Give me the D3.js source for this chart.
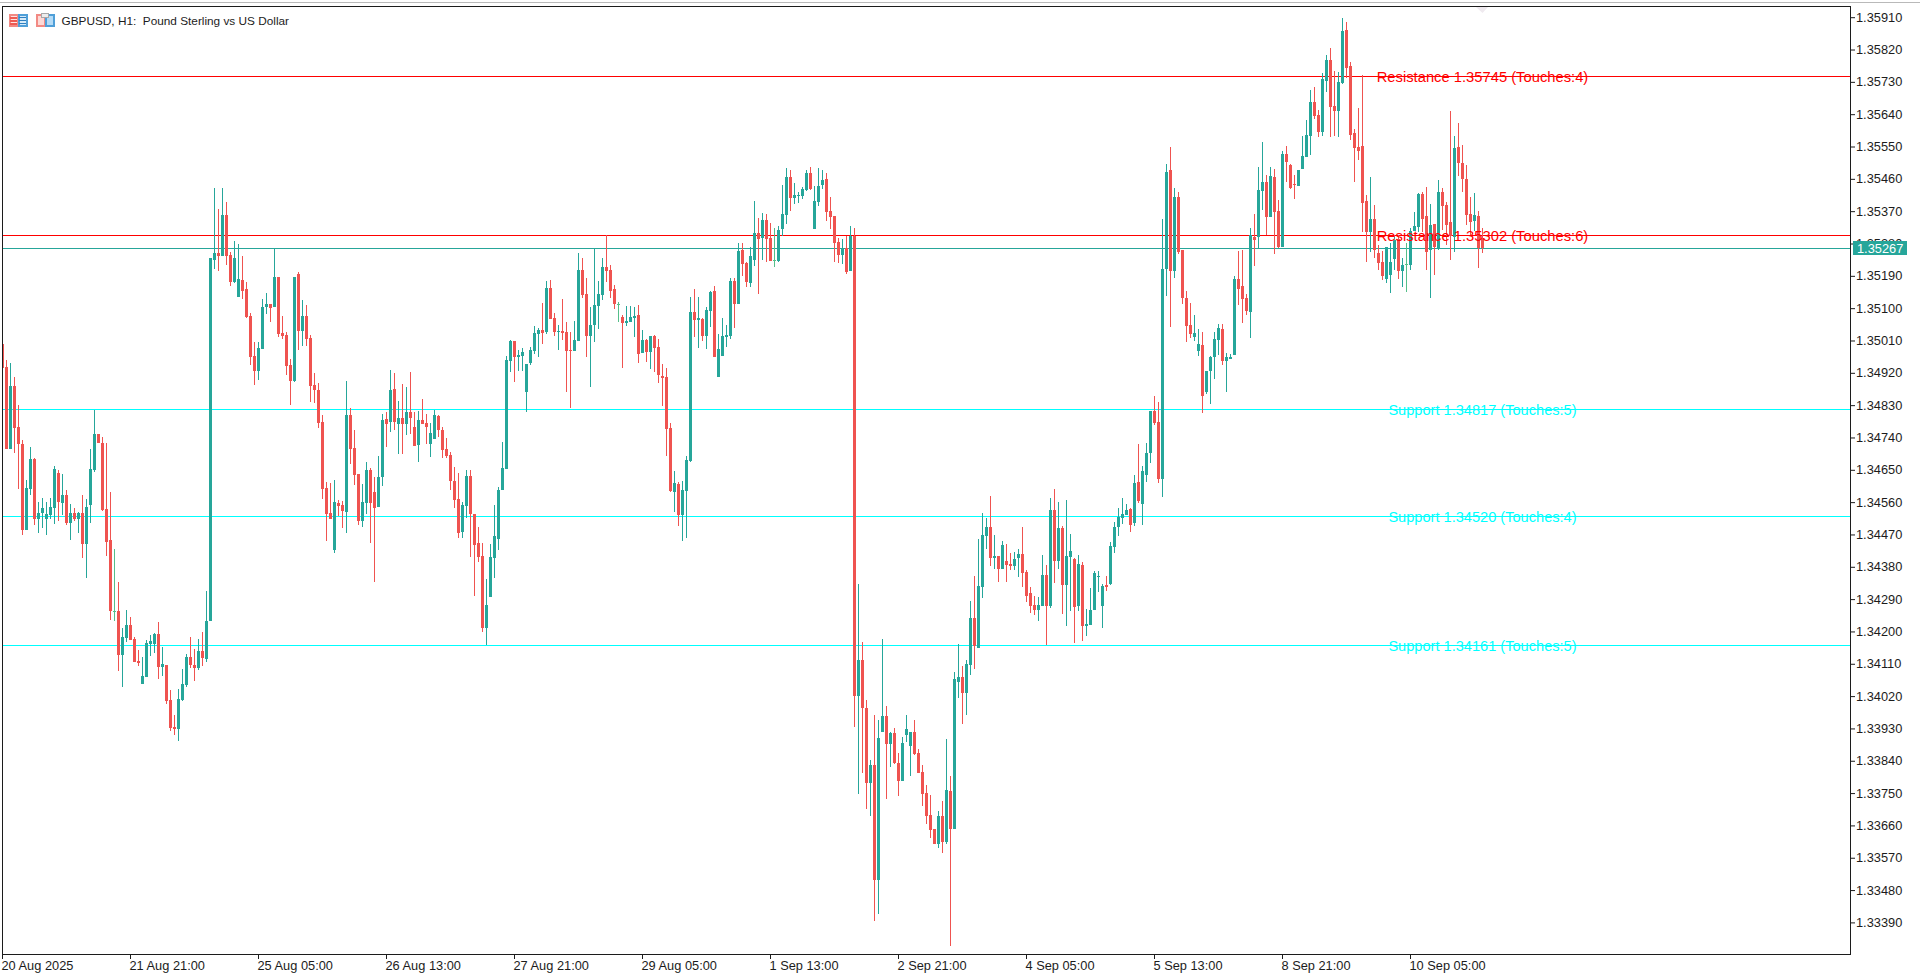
<!DOCTYPE html>
<html><head><meta charset="utf-8">
<title>GBPUSD, H1</title>
<script src="https://cdn.jsdelivr.net/npm/d3@7"></script>
<style>
html,body{margin:0;padding:0;background:#fff;overflow:hidden}
svg{display:block}
text{font-family:"Liberation Sans",Arial,sans-serif;fill:#1c1c1c}
</style></head><body>
<div id="chart"></div>
<script>
// Hourly quotes, in chart points above 1.30000
const opens=[
4998,4934,4706,4881,4767,4719,4478,4593,4678,4509,
4527,4511,4521,4541,4639,4555,4577,4500,4527,4511,
4527,4441,4548,4647,4747,4723,4538,4451,4253,4253,
4131,4177,4214,4174,4114,4050,4069,4161,4160,4189,
4098,4102,4005,3929,3925,4005,4046,4126,4102,4094,
4142,4118,4226,5233,5252,5245,5358,5247,5172,5130,
5177,5152,5077,4965,4923,4984,5102,5110,5102,5185,
5029,5024,4940,4895,5194,5035,5077,5015,4884,4870,
4781,4597,4527,4423,4555,4550,4530,4801,4708,4635,
4505,4555,4646,4586,4543,4626,4788,4781,4873,4776,
4791,4776,4809,4767,4716,4786,4778,4718,4734,4797,
4759,4705,4689,4615,4566,4475,4546,4631,4524,4444,
4407,4206,4293,4400,4454,4591,4650,4951,5007,4962,
4965,4864,4945,4979,5026,5037,5032,5155,5071,5032,
5035,5032,4982,4979,5007,5205,5138,5021,5051,5104,
5135,5213,5205,5152,5110,5074,5057,5060,5071,5079,
4973,5010,4976,5021,4990,4909,4906,4764,4585,4608,
4521,4588,4672,5088,5065,5068,5021,5091,5146,4906,
4965,5018,5021,5174,5110,5261,5224,5169,5233,5308,
5294,5344,5294,5233,5230,5319,5358,5465,5406,5411,
5411,5428,5476,5319,5395,5442,5459,5370,5356,5283,
5247,5266,5202,5300,4016,4116,3982,3773,3823,3502,
3915,3960,3882,3913,3829,3779,3907,3876,3916,3857,
3804,3745,3684,3645,3603,3681,3609,3751,3645,4055,
4069,4024,4102,4234,4150,4320,4462,4488,4401,4407,
4370,4393,4384,4379,4401,4412,4362,4303,4270,4256,
4267,4354,4267,4535,4393,4485,4326,4404,4398,4267,
4382,4211,4214,4256,4350,4267,4326,4329,4432,4488,
4513,4521,4538,4499,4613,4552,4633,4694,4811,4781,
4622,5208,5484,5202,5409,5261,5127,5051,5018,4979,
4996,4864,4923,4962,5010,5040,4951,4956,4968,5180,
5160,5127,5088,5297,5297,5425,5451,5353,5465,5370,
5269,5529,5498,5445,5439,5487,5520,5579,5674,5638,
5590,5732,5791,5663,5649,5727,5875,5774,5587,5548,
5551,5398,5311,5347,5252,5227,5180,5191,5236,5291,
5202,5222,5219,5314,5325,5417,5356,5261,5333,5264,
5423,5386,5339,5297,5548,5504,5459,5361,5342,5356,5294];
const highs=[
4998,4954,4945,4906,4828,4730,4619,4712,4681,4558,
4568,4558,4569,4658,4646,4636,4592,4551,4540,4530,
4576,4566,4705,4815,4747,4740,4722,4584,4427,4335,
4205,4256,4236,4182,4143,4125,4172,4187,4192,4223,
4152,4103,4033,3963,4036,4091,4133,4182,4146,4175,
4195,4309,5238,5434,5375,5434,5395,5256,5285,5277,
5244,5171,5084,5004,5004,5124,5140,5110,5266,5185,
5077,5032,4957,5185,5199,5121,5107,5024,4918,4890,
4800,4612,4611,4619,4563,4561,4895,4820,4759,4636,
4609,4670,4651,4627,4686,4804,4809,4926,4918,4838,
4887,4878,4920,4809,4812,4845,4803,4777,4815,4801,
4767,4737,4697,4655,4638,4556,4648,4648,4525,4488,
4443,4342,4440,4549,4598,4725,4965,5010,5007,4982,
4987,4943,4991,5049,5043,5113,5174,5177,5085,5051,
5124,5060,5032,5063,5252,5238,5183,5102,5266,5174,
5238,5302,5219,5163,5116,5079,5104,5104,5102,5107,
5037,5012,5021,5024,5012,4943,4931,4778,4644,4613,
4616,4686,5130,5152,5130,5071,5102,5146,5160,5026,
5071,5051,5183,5183,5280,5280,5227,5269,5397,5350,
5364,5361,5336,5322,5328,5442,5490,5484,5448,5423,
5437,5484,5492,5439,5490,5484,5476,5409,5356,5294,
5291,5300,5328,5322,4329,4167,4005,3837,3963,3949,
4175,3988,3916,3927,3857,3902,3963,3916,3949,3868,
3823,3768,3740,3645,3695,3723,3896,3793,4083,4161,
4100,4116,4281,4351,4454,4527,4513,4574,4465,4407,
4449,4440,4415,4418,4426,4488,4368,4320,4295,4292,
4410,4382,4569,4594,4557,4490,4563,4468,4401,4410,
4390,4259,4317,4365,4365,4329,4351,4446,4502,4541,
4569,4552,4541,4633,4719,4658,4722,4811,4853,4836,
5347,5501,5548,5434,5423,5261,5146,5113,5079,5040,
5032,4923,4965,5032,5054,5054,4973,4970,5188,5258,
5261,5138,5322,5361,5492,5562,5470,5492,5487,5400,
5537,5551,5501,5470,5484,5579,5624,5707,5716,5651,
5755,5805,5825,5760,5758,5908,5897,5785,5598,5657,
5749,5414,5464,5386,5275,5258,5269,5280,5303,5303,
5238,5280,5322,5367,5420,5423,5437,5389,5333,5456,
5434,5395,5649,5579,5615,5554,5498,5409,5420,5370,5322];
const lows=[
4931,4706,4706,4693,4595,4464,4478,4578,4494,4472,
4486,4464,4509,4497,4503,4521,4494,4452,4504,4472,
4402,4344,4500,4642,4721,4532,4408,4228,4225,4086,
4040,4167,4173,4111,4100,4050,4069,4128,4136,4064,
4072,3994,3918,3907,3890,4001,4040,4094,4059,4089,
4100,4110,4226,5209,5203,5245,5219,5161,5169,5130,
5125,5071,4940,4884,4898,4984,5082,5060,5102,5018,
5012,4912,4827,4892,4982,4993,4993,4836,4834,4763,
4566,4448,4509,4416,4519,4485,4472,4663,4605,4492,
4489,4523,4443,4335,4543,4602,4711,4754,4759,4692,
4692,4743,4748,4715,4670,4774,4718,4684,4734,4740,
4681,4679,4592,4541,4457,4458,4514,4405,4295,4391,
4195,4158,4293,4346,4424,4591,4650,4920,4892,4923,
4923,4809,4940,4970,4962,4998,5026,5068,5021,4982,
5010,4864,4820,4979,5007,5127,4962,4878,5004,5040,
5121,5171,5127,5096,5060,4931,5049,5060,5018,4945,
4973,4948,4929,4920,4890,4825,4686,4585,4529,4490,
4449,4457,4669,5018,4987,5007,4984,5046,4962,4906,
4965,4990,5012,5043,5110,5188,5157,5157,5216,5138,
5233,5227,5230,5213,5227,5300,5333,5370,5389,5392,
5403,5425,5428,5319,5384,5431,5342,5319,5227,5224,
5222,5194,5202,3929,3742,3801,3701,3681,3388,3408,
3915,3728,3818,3826,3737,3779,3888,3793,3851,3801,
3709,3659,3620,3603,3592,3578,3603,3318,3645,4010,
3938,3963,4075,4091,4150,4289,4426,4379,4370,4334,
4370,4334,4368,4368,4348,4320,4278,4248,4242,4225,
4267,4158,4262,4331,4370,4245,4211,4253,4164,4253,
4169,4183,4214,4256,4306,4206,4309,4326,4415,4463,
4496,4521,4474,4490,4555,4493,4613,4666,4772,4611,
4572,5132,5046,5183,5250,5110,5004,5015,5007,4965,
4806,4859,4831,4901,4968,4940,4864,4956,4968,5107,
5057,5079,5015,5216,5266,5372,5303,5353,5250,5266,
5269,5451,5431,5403,5439,5487,5520,5526,5626,5576,
5579,5702,5576,5579,5576,5724,5741,5568,5451,5512,
5311,5227,5255,5238,5205,5177,5169,5141,5205,5180,
5157,5144,5205,5314,5311,5311,5205,5127,5191,5261,
5317,5275,5233,5255,5467,5423,5331,5303,5314,5211,5252];
const closes=[
4931,4706,4881,4763,4718,4478,4597,4678,4509,4527,
4541,4524,4543,4650,4556,4577,4500,4527,4509,4527,
4441,4543,4650,4747,4721,4535,4447,4252,4253,4131,
4181,4213,4173,4111,4109,4071,4164,4170,4190,4098,
4105,4001,3927,3925,4008,4050,4125,4102,4094,4142,
4121,4225,5238,5252,5245,5358,5245,5172,5239,5179,
5147,5074,4963,4923,4987,5102,5110,5099,5185,5026,
5021,4937,4895,5185,5035,5077,5012,4881,4870,4779,
4595,4524,4509,4557,4547,4532,4801,4706,4633,4505,
4558,4646,4555,4541,4627,4786,4776,4870,4781,4791,
4776,4809,4791,4715,4786,4774,4766,4751,4799,4757,
4703,4687,4615,4563,4472,4549,4631,4524,4437,4404,
4206,4270,4404,4463,4591,4652,4954,5007,4962,4968,
4976,4943,4982,5029,5037,5029,5155,5068,5032,5035,
5029,4979,4979,5010,5205,5135,5021,5051,5107,5138,
5213,5202,5146,5110,5110,5057,5063,5074,5077,4970,
5010,4976,5021,4987,4912,4904,4761,4588,4610,4521,
4591,4675,5088,5065,5071,5021,5093,5144,4962,4984,
5021,5024,5174,5110,5258,5222,5171,5244,5308,5291,
5344,5291,5230,5233,5317,5361,5465,5406,5414,5414,
5431,5476,5431,5398,5439,5456,5367,5353,5280,5247,
5266,5199,5300,4016,4116,3982,3773,3823,3502,3899,
3960,3882,3913,3829,3779,3885,3924,3916,3854,3801,
3742,3681,3642,3603,3681,3609,3754,3645,4063,4069,
4024,4105,4234,4156,4323,4465,4488,4401,4407,4370,
4437,4382,4379,4398,4412,4359,4295,4267,4256,4270,
4354,4267,4535,4393,4485,4326,4407,4421,4264,4384,
4211,4217,4256,4359,4352,4323,4320,4435,4488,4516,
4524,4535,4493,4610,4560,4644,4694,4811,4778,4622,
5208,5478,5202,5409,5255,5127,5049,5026,5029,4998,
4853,4923,4962,5012,5043,4951,4962,4962,5180,5152,
5124,5090,5303,5289,5428,5451,5353,5467,5367,5269,
5529,5506,5434,5442,5484,5523,5582,5674,5635,5590,
5738,5791,5660,5649,5730,5872,5769,5582,5545,5537,
5392,5311,5347,5261,5224,5188,5269,5227,5289,5202,
5219,5222,5314,5328,5417,5347,5255,5331,5269,5423,
5384,5331,5300,5545,5504,5459,5358,5339,5358,5266,5267];

const priceTicks=[1.35910,1.35820,1.35730,1.35640,1.35550,1.35460,1.35370,1.35280,1.35190,1.35100,
1.35010,1.34920,1.34830,1.34740,1.34650,1.34560,1.34470,1.34380,1.34290,1.34200,1.34110,1.34020,
1.33930,1.33840,1.33750,1.33660,1.33570,1.33480,1.33390];
const timeTickBars=[0,32,64,96,128,160,192,224,256,288,320,352];
const timeTickLabels=["20 Aug 2025","21 Aug 21:00","25 Aug 05:00","26 Aug 13:00","27 Aug 21:00","29 Aug 05:00",
"1 Sep 13:00","2 Sep 21:00","4 Sep 05:00","5 Sep 13:00","8 Sep 21:00","10 Sep 05:00"];
const resistanceLevels=[1.35745,1.35302];
const resistanceTouches=[4,6];
const supportLevels=[1.34817,1.34520,1.34161];
const supportTouches=[5,4,5];
const lastPrice=1.35267;
const chartTitle="GBPUSD, H1:  Pound Sterling vs US Dollar";

const BULL="#26a69a",BEAR="#ef5350",DOJI="#55bf8a",RES="#ff0000",SUP="#00ffff",FRAME="#1c1c1c";
const W=1920,H=975,L=2,T=6,R=1850,B=954;
const toPrice=v=>1.35745+(v-5745)*0.9975e-5;

const svg=d3.select("#chart").append("svg").attr("width",W).attr("height",H);
const x=d3.scaleLinear().domain([0,32]).range([2,130]);
const y=d3.scaleLinear().domain([1.33390,1.35910]).range([922.4,17.2]);

svg.append("rect").attr("x",0).attr("y",2).attr("width",W).attr("height",1).attr("fill","#b9b9b9");
svg.append("defs").append("clipPath").attr("id","plot").append("rect")
  .attr("x",L+1).attr("y",T+1).attr("width",R-L-1).attr("height",B-T-1);

const plot=svg.append("g").attr("clip-path","url(#plot)");

// marker of the newest bar at the top edge
plot.append("path").attr("fill","#efeaef")
  .attr("d",d3.line()([[x(opens.length-1)-6,T+1],[x(opens.length-1)+6,T+1],[x(opens.length-1)+.5,T+7]]));

const levelRows=[
  ...resistanceLevels.map((v,i)=>({v,c:RES,t:`Resistance ${v.toFixed(5)} (Touches:${resistanceTouches[i]})`})),
  ...supportLevels.map((v,i)=>({v,c:SUP,t:`Support ${v.toFixed(5)} (Touches:${supportTouches[i]})`}))
];
const rowY=v=>Math.floor(y(v));
plot.selectAll("rect.level").data(levelRows).join("rect").attr("class","level")
  .attr("x",L).attr("width",R-L).attr("y",d=>rowY(d.v)).attr("height",1).attr("fill",d=>d.c);
plot.append("rect").attr("x",L).attr("width",R-L).attr("y",rowY(lastPrice)).attr("height",1).attr("fill",BULL);

const bars=d3.range(opens.length).map(i=>({i,o:toPrice(opens[i]),h:toPrice(highs[i]),l:toPrice(lows[i]),c:toPrice(closes[i]),
  col:opens[i]===closes[i]?DOJI:(closes[i]>opens[i]?BULL:BEAR)}));
const candle=plot.selectAll("g.c").data(bars).join("g").attr("class","c").attr("fill",d=>d.col).attr("shape-rendering","crispEdges");
candle.append("rect").attr("x",d=>x(d.i)).attr("width",1)
  .attr("y",d=>Math.round(y(d.h))).attr("height",d=>Math.max(1,Math.round(y(d.l))-Math.round(y(d.h))));
candle.append("rect").attr("x",d=>x(d.i)-1).attr("width",3)
  .attr("y",d=>Math.round(y(Math.max(d.o,d.c))))
  .attr("height",d=>Math.max(1,Math.round(y(Math.min(d.o,d.c)))-Math.round(y(Math.max(d.o,d.c)))));

// frame
svg.append("rect").attr("x",L+.5).attr("y",T+.5).attr("width",R-L).attr("height",B-T)
  .attr("fill","none").attr("stroke",FRAME).attr("stroke-width",1);

// price axis
const yAxis=svg.append("g").attr("transform",`translate(${R+1},0)`)
  .call(d3.axisRight(y).tickValues(priceTicks).tickSize(4).tickPadding(1).tickFormat(d3.format(".5f")));
yAxis.select(".domain").remove();
yAxis.selectAll("line").attr("stroke",FRAME);
yAxis.selectAll("text").attr("font-size",12.8).attr("fill",FRAME);

// time axis
const timeLabel=new Map(timeTickBars.map((b,i)=>[b,timeTickLabels[i]]));
const xAxis=svg.append("g").attr("transform",`translate(0,${B+1})`)
  .call(d3.axisBottom(x).tickValues(timeTickBars).tickSize(4).tickPadding(2).tickFormat(b=>timeLabel.get(b)));
xAxis.select(".domain").remove();
xAxis.selectAll("line").attr("stroke",FRAME);
xAxis.selectAll("text").attr("font-size",12.8).attr("fill",FRAME).attr("text-anchor","start").attr("dx",-1);

// level captions centred on the newest bar
svg.selectAll("text.cap").data(levelRows).join("text").attr("class","cap")
  .attr("x",x(opens.length-1)+.5).attr("y",d=>y(d.v)).attr("dy","0.36em").attr("text-anchor","middle")
  .attr("font-size",d=>d.c===RES?14.75:14.6).style("fill",d=>d.c).text(d=>d.t);

// last price tag
const tagY=rowY(lastPrice);
svg.append("rect").attr("x",R+3).attr("y",tagY-7).attr("width",54).attr("height",14).attr("fill",BULL);
svg.append("text").attr("x",R+7).attr("y",tagY+.5).attr("dy","0.36em").attr("font-size",12.8).style("fill","#fff").text(lastPrice.toFixed(5));

// title and its two little icons
svg.append("text").attr("x",61.5).attr("y",25).attr("font-size",11.8).attr("xml:space","preserve").style("white-space","pre").text(chartTitle);
const icon=svg.append("g").attr("shape-rendering","crispEdges");
function half(gx,gy,w,h,stroke,fill){icon.append("rect").attr("x",gx+.5).attr("y",gy+.5).attr("width",w-1).attr("height",h-1).attr("fill",fill).attr("stroke",stroke).attr("stroke-width",2);}
half(9,14,9,12,"#f28a84","#fde4e2");half(18,14,9,12,"#4f9fd8","#d6eaf8");
[17,20,23].forEach(r=>{icon.append("rect").attr("x",10).attr("y",r).attr("width",7).attr("height",2).attr("fill","#ee5a52");
  icon.append("rect").attr("x",19).attr("y",r).attr("width",7).attr("height",1).attr("fill","#2f7fc0");});
half(36,14,9,12,"#f28a84","#fdd9d6");half(45,14,9,12,"#4f9fd8","#b5dbf6");
icon.append("rect").attr("x",41).attr("y",13).attr("width",7).attr("height",4).attr("fill","#ededed").attr("stroke","#a8a8a8");
</script>
</body></html>
